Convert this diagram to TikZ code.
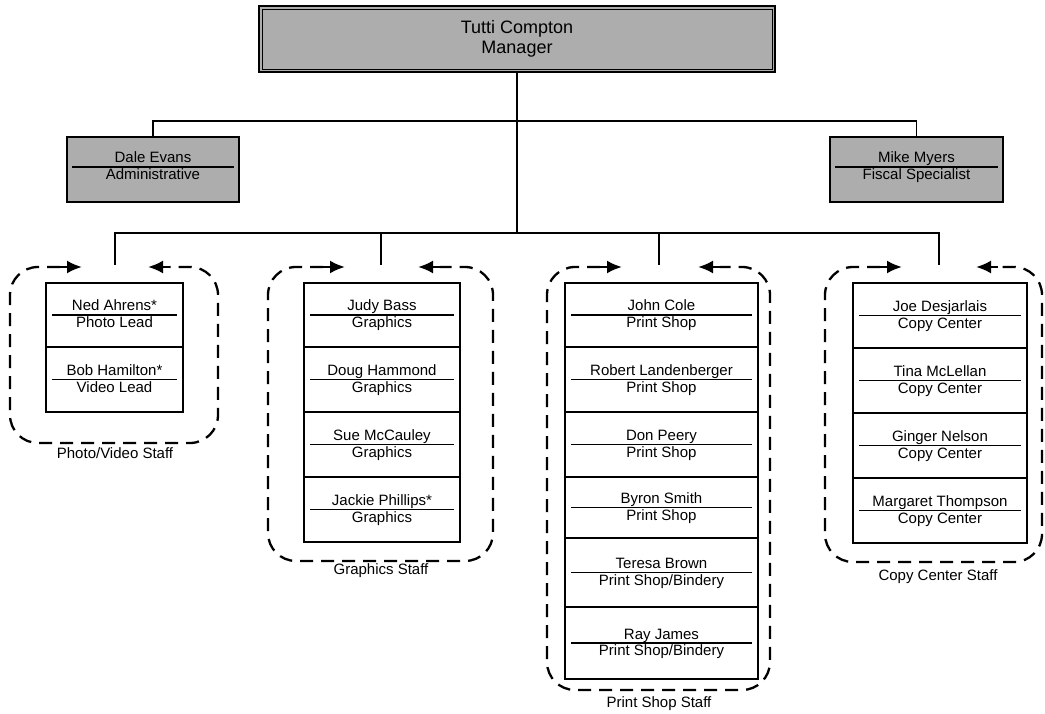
\documentclass[tikz,border=0pt]{standalone}
\usepackage{fontspec}
\setmainfont{Liberation Sans}
\usetikzlibrary{arrows.meta}
\definecolor{boxgray}{gray}{0.68}
\tikzset{
  mgrbox/.style={draw, line width=2pt, fill=boxgray, minimum width=516pt, minimum height=66pt,
    align=center, font=\fontsize{18}{20}\selectfont, inner sep=0pt},
  leadbox/.style={draw, line width=1.5pt, fill=boxgray, inner sep=0pt, minimum height=65pt},
  cell/.style={draw, line width=1.4pt, inner sep=0pt},
  rulerline/.style={line width=1.4pt},
  txt/.style={font=\fontsize{15}{17}\selectfont, inner sep=0pt, anchor=base},
  wire/.style={line width=1.4pt},
  grpline/.style={line width=2.3pt, dash pattern=on 13pt off 8pt, rounded corners=28pt},
  grparrow/.style={line width=2.3pt, -{Latex[length=15pt,width=13pt]}},
  grplabel/.style={font=\fontsize{15}{17}\selectfont, inner sep=0pt}
}
\newcommand\staffcell[7]{%
  \node[cell, minimum width={#3pt-#2pt}, minimum height={#5pt-#4pt}] (#1) at ({(#2+#3)/2},{(#4+#5)/2}) {};
  \draw[rulerline] ([xshift=7pt]#1.west) -- ([xshift=-7pt]#1.east);
  \node[txt] (#1-name) at ([yshift=4pt]#1.center) {#6};
  \node[txt] (#1-role) at ([yshift=-12.5pt]#1.center) {#7};
}
% #1 left tip x, #2 left x, #3 bottom y, #4 right x, #5 right tip x
\newcommand\grpoutline[5]{%
  \draw[grpline] ({#1-22},267) -- (#2,267) -- (#2,#3) -- (#4,#3) -- (#4,267) -- ({#5+22},267);
  \draw[grparrow] ({#1-22},267) -- (#1,267);
  \draw[grparrow] ({#5+22},267) -- (#5,267);
}
\begin{document}
\begin{tikzpicture}[x=1pt,y=-1pt]
\useasboundingbox[fill=white] (0,0) rectangle (1045,714);

% Manager
\node[mgrbox] (mgr) at (517,39) {Tutti Compton\\Manager};
\draw[line width=0.8pt] ([shift={(4,4)}]mgr.north west) rectangle ([shift={(-4,-4)}]mgr.south east);

% Lead boxes
\node[leadbox, minimum width=172pt] (dale) at (153,169.5) {};
\draw[rulerline] ([xshift=6pt,yshift=2.5pt]dale.west) -- ([xshift=-6pt,yshift=2.5pt]dale.east);
\node[txt] (dale-name) at ([yshift=6.5pt]dale.center) {Dale Evans};
\node[txt] (dale-role) at ([yshift=-10.5pt]dale.center) {Administrative};

\node[leadbox, minimum width=173pt] (mike) at (916.5,169.5) {};
\draw[rulerline] ([xshift=6pt,yshift=2.5pt]mike.west) -- ([xshift=-6pt,yshift=2.5pt]mike.east);
\node[txt] (mike-name) at ([yshift=6.5pt]mike.center) {Mike Myers};
\node[txt] (mike-role) at ([yshift=-10.5pt]mike.center) {Fiscal Specialist};

% Connectors
\coordinate (j1) at (517,121);
\coordinate (j2) at (517,233);
\coordinate (t1) at (115,265);
\coordinate (t2) at (381,265);
\coordinate (t3) at (659,265);
\coordinate (t4) at (939,265);
\draw[wire] (mgr.south) -- (j2);
\draw[wire] (dale.north) |- (j1) -| (mike.north);
\draw[wire] (t1) |- (j2) -| (t4);
\draw[wire] (t2) |- (j2);
\draw[wire] (t3) |- (j2);

% Photo/Video
\staffcell{ned}{46}{183}{283}{347}{Ned Ahrens*}{Photo Lead}
\staffcell{bob}{46}{183}{347}{412}{Bob Hamilton*}{Video Lead}
\grpoutline{82}{10}{443}{218}{148}
\node[grplabel] (photo-lbl) at (115,453) {Photo/Video Staff};

% Graphics
\staffcell{judy}{304}{460}{283}{347}{Judy Bass}{Graphics}
\staffcell{doug}{304}{460}{347}{412}{Doug Hammond}{Graphics}
\staffcell{sue}{304}{460}{412}{477}{Sue McCauley}{Graphics}
\staffcell{jackie}{304}{460}{477}{542}{Jackie Phillips*}{Graphics}
\grpoutline{345}{268}{561}{493}{418}
\node[grplabel] (graph-lbl) at (381,571) {Graphics Staff};

% Print Shop
\staffcell{john}{565}{758}{283}{347}{John Cole}{Print Shop}
\staffcell{robert}{565}{758}{347}{412}{Robert Landenberger}{Print Shop}
\staffcell{don}{565}{758}{412}{477}{Don Peery}{Print Shop}
\staffcell{byron}{565}{758}{477}{538}{Byron Smith}{Print Shop}
\staffcell{teresa}{565}{758}{538}{607}{Teresa Brown}{Print Shop/Bindery}
\staffcell{ray}{565}{758}{607}{679}{Ray James}{Print Shop/Bindery}
\grpoutline{622}{547}{690}{770}{698}
\node[grplabel] (print-lbl) at (659,704) {Print Shop Staff};

% Copy Center
\staffcell{joe}{853}{1027}{283}{348}{Joe Desjarlais}{Copy Center}
\staffcell{tina}{853}{1027}{348}{413}{Tina McLellan}{Copy Center}
\staffcell{ginger}{853}{1027}{413}{478}{Ginger Nelson}{Copy Center}
\staffcell{margaret}{853}{1027}{478}{543}{Margaret Thompson}{Copy Center}
\grpoutline{902}{825}{562}{1042}{976}
\node[grplabel] (copy-lbl) at (938,577) {Copy Center Staff};
\end{tikzpicture}
\end{document}
